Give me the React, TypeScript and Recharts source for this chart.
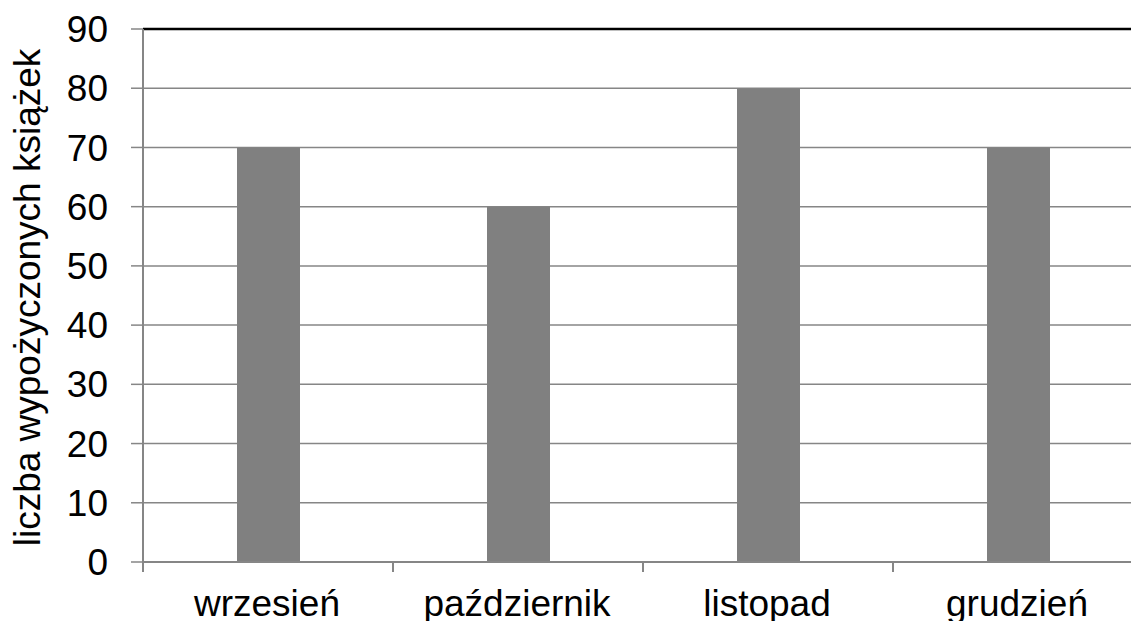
import { BarChart, Bar, XAxis, YAxis, CartesianGrid, ReferenceLine } from 'recharts';

const months = ['wrzesień', 'październik', 'listopad', 'grudzień'];
const booksBorrowed = [70, 60, 80, 70];
const yTicks = [0, 10, 20, 30, 40, 50, 60, 70, 80, 90];

const data = months.map((month, i) => ({ month, books: booksBorrowed[i] }));

const FONT = '"Liberation Sans", Arial, sans-serif';
const GRID = '#868686';

// etykieta kategorii + kreska podziałki na lewej granicy kategorii
function MonthTick(props: any) {
  const { x, y, payload } = props;
  const edge = x - (payload.offset ?? 0);
  return (
    <g>
      <line x1={edge} x2={edge} y1={y - 28} y2={y - 18} stroke={GRID} strokeWidth={2} />
      <text x={x - 1} y={y} dy="0.71em" textAnchor="middle" fontSize={37} fontFamily={FONT} fill="#000">
        {payload.value}
      </text>
    </g>
  );
}

function AxisTitle(props: any) {
  const { viewBox } = props;
  const cx = 27;
  const cy = viewBox.y + viewBox.height / 2 + 2;
  return (
    <text
      x={cx}
      y={cy}
      transform={`rotate(-90, ${cx}, ${cy})`}
      textAnchor="middle"
      dominantBaseline="central"
      fontSize={37}
      fontFamily={FONT}
      fill="#000"
    >
      liczba wypożyczonych książek
    </text>
  );
}

export default function App() {
  return (
    <div style={{ position: 'absolute', left: 0, top: 0, width: 1131, height: 621, overflow: 'hidden', background: '#fff' }}>
      <BarChart
        width={1143}
        height={621}
        data={data}
        margin={{ top: 29, right: 0, bottom: 0, left: 0 }}
        barSize={63}
      >
        <CartesianGrid horizontal vertical={false} stroke={GRID} strokeWidth={1.5} />
        <XAxis
          dataKey="month"
          height={59}
          tickLine={false}
          axisLine={{ stroke: GRID, strokeWidth: 2 }}
          tickSize={10}
          tickMargin={18}
          tick={<MonthTick />}
          interval={0}
        />
        <YAxis
          width={143}
          domain={[0, 90]}
          ticks={yTicks}
          interval={0}
          tickSize={12}
          tickMargin={23}
          axisLine={{ stroke: GRID, strokeWidth: 2 }}
          tickLine={{ stroke: GRID, strokeWidth: 1.5 }}
          tick={{ fontSize: 37, fontFamily: FONT, fill: '#000' }}
          label={<AxisTitle />}
        />
        <ReferenceLine y={90} stroke="#000" strokeWidth={2.5} />
        <Bar dataKey="books" fill="#808080" isAnimationActive={false} />
      </BarChart>
    </div>
  );
}
